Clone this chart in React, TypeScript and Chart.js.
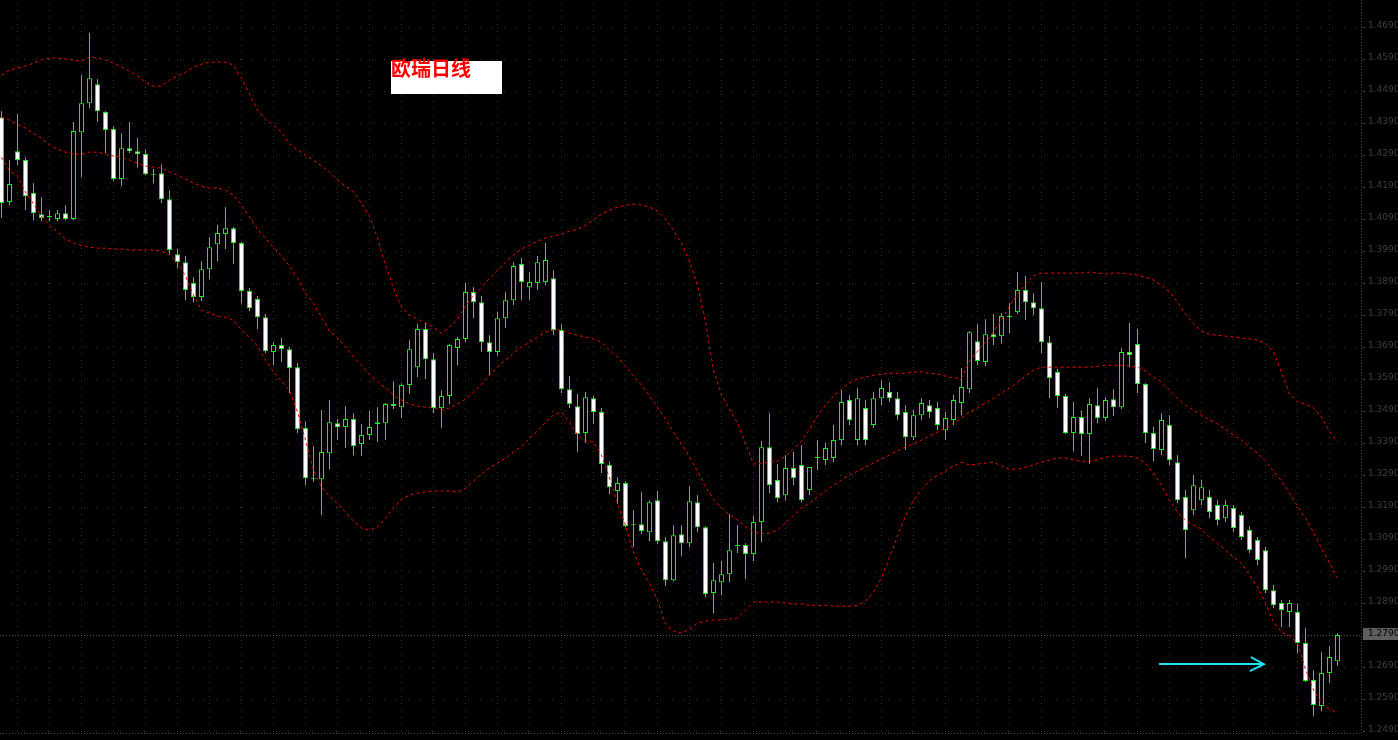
import React, { useEffect, useRef } from 'react';
import { Chart, registerables } from 'chart.js';

Chart.register(...registerables);

// ---- Daily EUR/CHF candles (oldest -> newest) ----
const opens = [
  1.4408, 1.4143, 1.4302, 1.4274, 1.4171, 1.4105, 1.4096, 1.4090, 1.4108, 1.4090,
  1.4361, 1.4452, 1.4511, 1.4424, 1.4371, 1.4215, 1.4311, 1.4302, 1.4293, 1.4227,
  1.4233, 1.4152, 1.3980, 1.3955, 1.3890, 1.3846, 1.3933, 1.4011, 1.4043, 1.4061,
  1.4015, 1.3865, 1.3840, 1.3783, 1.3674, 1.3696, 1.3683, 1.3627, 1.3437, 1.3277,
  1.3277, 1.3358, 1.3452, 1.3440, 1.3465, 1.3387, 1.3415, 1.3455, 1.3452, 1.3512,
  1.3502, 1.3571, 1.3627, 1.3746, 1.3652, 1.3499, 1.3537, 1.3687, 1.3715, 1.3862,
  1.3830, 1.3705, 1.3674, 1.3780, 1.3836, 1.3949, 1.3877, 1.3890, 1.3893, 1.3905,
  1.3743, 1.3558, 1.3505, 1.3421, 1.3530, 1.3487, 1.3321, 1.3240, 1.3265, 1.3133,
  1.3136, 1.3111, 1.3211, 1.3083, 1.2961, 1.3105, 1.3077, 1.3205, 1.3127, 1.2921,
  1.2955, 1.2980, 1.3068, 1.3071, 1.3043, 1.3143, 1.3377, 1.3274, 1.3227, 1.3312,
  1.3321, 1.3243, 1.3343, 1.3337, 1.3343, 1.3399, 1.3524, 1.3399, 1.3499, 1.3446,
  1.3530, 1.3549, 1.3530, 1.3487, 1.3408, 1.3477, 1.3508, 1.3499, 1.3430, 1.3462,
  1.3515, 1.3558, 1.3708, 1.3643, 1.3730, 1.3724, 1.3783, 1.3799, 1.3868, 1.3830,
  1.3811, 1.3705, 1.3612, 1.3537, 1.3421, 1.3471, 1.3418, 1.3508, 1.3468, 1.3527,
  1.3502, 1.3674, 1.3699, 1.3574, 1.3421, 1.3368, 1.3446, 1.3330, 1.3221, 1.3180,
  1.3211, 1.3221, 1.3196, 1.3155, 1.3187, 1.3165, 1.3118, 1.3087, 1.3055, 1.2930,
  1.2890, 1.2862, 1.2862, 1.2765, 1.2649, 1.2568, 1.2671, 1.2708,
];
const highs = [
  1.4427, 1.4274, 1.4418, 1.4283, 1.4202, 1.4158, 1.4118, 1.4118, 1.4133, 1.4393,
  1.4540, 1.4671, 1.4527, 1.4427, 1.4380, 1.4358, 1.4393, 1.4343, 1.4308, 1.4246,
  1.4261, 1.4180, 1.3996, 1.3974, 1.3908, 1.3958, 1.4033, 1.4071, 1.4127, 1.4065,
  1.4018, 1.3874, 1.3849, 1.3793, 1.3705, 1.3718, 1.3690, 1.3640, 1.3458, 1.3380,
  1.3493, 1.3524, 1.3465, 1.3505, 1.3483, 1.3449, 1.3490, 1.3502, 1.3515, 1.3583,
  1.3577, 1.3712, 1.3762, 1.3765, 1.3671, 1.3555, 1.3699, 1.3721, 1.3890, 1.3877,
  1.3849, 1.3727, 1.3799, 1.3862, 1.3955, 1.3968, 1.3924, 1.3974, 1.4015, 1.3930,
  1.3762, 1.3599, 1.3543, 1.3549, 1.3537, 1.3499, 1.3333, 1.3283, 1.3271, 1.3180,
  1.3236, 1.3211, 1.3240, 1.3096, 1.3133, 1.3133, 1.3255, 1.3227, 1.3130, 1.3015,
  1.3021, 1.3168, 1.3133, 1.3077, 1.3162, 1.3396, 1.3483, 1.3324, 1.3352, 1.3362,
  1.3383, 1.3312, 1.3399, 1.3390, 1.3446, 1.3555, 1.3540, 1.3562, 1.3524, 1.3549,
  1.3587, 1.3580, 1.3549, 1.3508, 1.3493, 1.3530, 1.3524, 1.3518, 1.3487, 1.3540,
  1.3624, 1.3740, 1.3762, 1.3777, 1.3793, 1.3796, 1.3827, 1.3924, 1.3912, 1.3858,
  1.3893, 1.3724, 1.3621, 1.3543, 1.3518, 1.3490, 1.3530, 1.3562, 1.3533, 1.3558,
  1.3687, 1.3765, 1.3746, 1.3577, 1.3440, 1.3483, 1.3477, 1.3352, 1.3243, 1.3290,
  1.3274, 1.3243, 1.3211, 1.3211, 1.3196, 1.3174, 1.3130, 1.3096, 1.3065, 1.2946,
  1.2899, 1.2899, 1.2887, 1.2812, 1.2680, 1.2737, 1.2755, 1.2796,
];
const lows = [
  1.4093, 1.4133, 1.4258, 1.4118, 1.4086, 1.4083, 1.4083, 1.4083, 1.4086, 1.4086,
  1.4221, 1.4436, 1.4393, 1.4296, 1.4208, 1.4193, 1.4296, 1.4252, 1.4227, 1.4202,
  1.4140, 1.3980, 1.3936, 1.3836, 1.3830, 1.3833, 1.3902, 1.3958, 1.3996, 1.3949,
  1.3827, 1.3802, 1.3746, 1.3671, 1.3633, 1.3643, 1.3546, 1.3421, 1.3258, 1.3268,
  1.3165, 1.3308, 1.3399, 1.3374, 1.3352, 1.3349, 1.3399, 1.3393, 1.3399, 1.3496,
  1.3468, 1.3543, 1.3596, 1.3590, 1.3483, 1.3437, 1.3512, 1.3633, 1.3705, 1.3780,
  1.3674, 1.3602, 1.3662, 1.3749, 1.3821, 1.3836, 1.3836, 1.3868, 1.3883, 1.3727,
  1.3546, 1.3499, 1.3362, 1.3390, 1.3449, 1.3296, 1.3230, 1.3199, 1.3127, 1.3065,
  1.3105, 1.3083, 1.3074, 1.2943, 1.2958, 1.3036, 1.3065, 1.3111, 1.2908, 1.2858,
  1.2915, 1.2955, 1.3046, 1.2965, 1.3021, 1.3080, 1.3233, 1.3205, 1.3211, 1.3258,
  1.3205, 1.3227, 1.3305, 1.3321, 1.3330, 1.3383, 1.3446, 1.3383, 1.3383, 1.3437,
  1.3508, 1.3518, 1.3462, 1.3368, 1.3399, 1.3462, 1.3468, 1.3430, 1.3399, 1.3446,
  1.3477, 1.3546, 1.3633, 1.3630, 1.3696, 1.3702, 1.3733, 1.3793, 1.3774, 1.3790,
  1.3671, 1.3530, 1.3499, 1.3418, 1.3365, 1.3349, 1.3324, 1.3452, 1.3458, 1.3474,
  1.3496, 1.3627, 1.3546, 1.3390, 1.3333, 1.3352, 1.3321, 1.3202, 1.3030, 1.3165,
  1.3196, 1.3155, 1.3133, 1.3143, 1.3111, 1.3087, 1.3046, 1.3008, 1.2921, 1.2874,
  1.2815, 1.2815, 1.2733, 1.2643, 1.2536, 1.2552, 1.2640, 1.2693,
];
const closes = [
  1.4140, 1.4199, 1.4274, 1.4161, 1.4108, 1.4093, 1.4099, 1.4108, 1.4090, 1.4365,
  1.4452, 1.4530, 1.4427, 1.4368, 1.4215, 1.4311, 1.4302, 1.4293, 1.4230, 1.4230,
  1.4152, 1.3993, 1.3955, 1.3868, 1.3846, 1.3933, 1.4002, 1.4046, 1.4061, 1.4015,
  1.3865, 1.3811, 1.3783, 1.3677, 1.3696, 1.3683, 1.3624, 1.3433, 1.3280, 1.3280,
  1.3362, 1.3455, 1.3440, 1.3465, 1.3380, 1.3415, 1.3440, 1.3449, 1.3512, 1.3505,
  1.3571, 1.3683, 1.3746, 1.3652, 1.3499, 1.3537, 1.3696, 1.3715, 1.3862, 1.3830,
  1.3705, 1.3674, 1.3780, 1.3836, 1.3943, 1.3893, 1.3893, 1.3955, 1.3962, 1.3743,
  1.3558, 1.3512, 1.3418, 1.3533, 1.3487, 1.3324, 1.3252, 1.3265, 1.3130, 1.3136,
  1.3115, 1.3205, 1.3083, 1.2961, 1.3102, 1.3077, 1.3208, 1.3127, 1.2918, 1.2961,
  1.2980, 1.3055, 1.3071, 1.3043, 1.3143, 1.3377, 1.3258, 1.3218, 1.3312, 1.3280,
  1.3211, 1.3315, 1.3346, 1.3374, 1.3399, 1.3518, 1.3462, 1.3530, 1.3399, 1.3530,
  1.3562, 1.3530, 1.3477, 1.3408, 1.3477, 1.3515, 1.3487, 1.3446, 1.3468, 1.3524,
  1.3565, 1.3736, 1.3646, 1.3730, 1.3721, 1.3787, 1.3787, 1.3868, 1.3830, 1.3811,
  1.3705, 1.3593, 1.3537, 1.3421, 1.3471, 1.3418, 1.3512, 1.3468, 1.3524, 1.3502,
  1.3674, 1.3665, 1.3574, 1.3421, 1.3371, 1.3462, 1.3337, 1.3211, 1.3118, 1.3258,
  1.3252, 1.3174, 1.3149, 1.3196, 1.3124, 1.3096, 1.3055, 1.3024, 1.2930, 1.2883,
  1.2868, 1.2890, 1.2765, 1.2646, 1.2571, 1.2671, 1.2721, 1.2790,
];

// ---- Bollinger bands as drawn on the chart ----
const upperBand = [
  1.4540, 1.4555, 1.4562, 1.4568, 1.4577, 1.4587, 1.4593, 1.4593, 1.4590, 1.4587,
  1.4583, 1.4596, 1.4593, 1.4587, 1.4577, 1.4565, 1.4552, 1.4537, 1.4518, 1.4505,
  1.4505, 1.4524, 1.4537, 1.4549, 1.4565, 1.4574, 1.4580, 1.4580, 1.4580, 1.4571,
  1.4530, 1.4480, 1.4430, 1.4402, 1.4383, 1.4362, 1.4324, 1.4305, 1.4290, 1.4274,
  1.4255, 1.4237, 1.4212, 1.4193, 1.4174, 1.4140, 1.4099, 1.4030, 1.3946, 1.3874,
  1.3815, 1.3790, 1.3777, 1.3765, 1.3752, 1.3733, 1.3752, 1.3777, 1.3818, 1.3852,
  1.3877, 1.3905, 1.3930, 1.3955, 1.3977, 1.3996, 1.4008, 1.4021, 1.4030, 1.4037,
  1.4043, 1.4052, 1.4058, 1.4071, 1.4087, 1.4105, 1.4118, 1.4127, 1.4133, 1.4137,
  1.4133, 1.4127, 1.4115, 1.4090, 1.4055, 1.4015, 1.3958, 1.3883, 1.3768, 1.3618,
  1.3540, 1.3496, 1.3452, 1.3390, 1.3324, 1.3327, 1.3330, 1.3333, 1.3349, 1.3371,
  1.3396, 1.3433, 1.3474, 1.3508, 1.3537, 1.3558, 1.3577, 1.3590, 1.3596, 1.3602,
  1.3605, 1.3608, 1.3608, 1.3608, 1.3612, 1.3612, 1.3608, 1.3605, 1.3599, 1.3593,
  1.3593, 1.3646, 1.3677, 1.3705, 1.3737, 1.3774, 1.3818, 1.3855, 1.3887, 1.3912,
  1.3921, 1.3921, 1.3921, 1.3921, 1.3921, 1.3921, 1.3924, 1.3921, 1.3918, 1.3921,
  1.3921, 1.3918, 1.3915, 1.3908, 1.3899, 1.3883, 1.3862, 1.3830, 1.3793, 1.3762,
  1.3740, 1.3730, 1.3727, 1.3724, 1.3721, 1.3718, 1.3715, 1.3712, 1.3702, 1.3674,
  1.3612, 1.3543, 1.3518, 1.3512, 1.3499, 1.3471, 1.3427, 1.3393,
];
const middleBand = [
  1.4408, 1.4399, 1.4386, 1.4374, 1.4358, 1.4343, 1.4321, 1.4308, 1.4299, 1.4293,
  1.4293, 1.4299, 1.4299, 1.4293, 1.4287, 1.4283, 1.4274, 1.4265, 1.4255, 1.4252,
  1.4249, 1.4237, 1.4227, 1.4215, 1.4202, 1.4193, 1.4187, 1.4187, 1.4180, 1.4165,
  1.4133, 1.4096, 1.4058, 1.4030, 1.4002, 1.3974, 1.3943, 1.3905, 1.3858, 1.3827,
  1.3783, 1.3740, 1.3718, 1.3690, 1.3658, 1.3633, 1.3605, 1.3583, 1.3562, 1.3540,
  1.3524, 1.3512, 1.3505, 1.3502, 1.3499, 1.3493, 1.3499, 1.3512, 1.3527, 1.3549,
  1.3574, 1.3602, 1.3627, 1.3649, 1.3671, 1.3690, 1.3705, 1.3721, 1.3737, 1.3743,
  1.3743, 1.3733, 1.3727, 1.3721, 1.3715, 1.3705, 1.3680, 1.3658, 1.3630, 1.3599,
  1.3571, 1.3537, 1.3502, 1.3465, 1.3424, 1.3387, 1.3346, 1.3302, 1.3252, 1.3215,
  1.3187, 1.3165, 1.3149, 1.3130, 1.3111, 1.3108, 1.3108, 1.3118, 1.3140, 1.3162,
  1.3187, 1.3202, 1.3221, 1.3240, 1.3258, 1.3274, 1.3290, 1.3302, 1.3315, 1.3327,
  1.3340, 1.3352, 1.3365, 1.3377, 1.3387, 1.3399, 1.3412, 1.3424, 1.3437, 1.3452,
  1.3468, 1.3487, 1.3499, 1.3515, 1.3530, 1.3546, 1.3562, 1.3580, 1.3599, 1.3618,
  1.3627, 1.3627, 1.3627, 1.3627, 1.3627, 1.3627, 1.3627, 1.3630, 1.3633, 1.3633,
  1.3633, 1.3630, 1.3627, 1.3615, 1.3596, 1.3580, 1.3555, 1.3530, 1.3508, 1.3493,
  1.3477, 1.3462, 1.3449, 1.3433, 1.3415, 1.3399, 1.3377, 1.3358, 1.3333, 1.3302,
  1.3271, 1.3233, 1.3193, 1.3155, 1.3111, 1.3062, 1.3015, 1.2968,
];
const lowerBand = [
  1.4283, 1.4240, 1.4224, 1.4174, 1.4137, 1.4099, 1.4071, 1.4049, 1.4027, 1.4015,
  1.4008, 1.4002, 1.3999, 1.3999, 1.3996, 1.3996, 1.3993, 1.3993, 1.3993, 1.3993,
  1.3990, 1.3977, 1.3955, 1.3912, 1.3852, 1.3805, 1.3796, 1.3787, 1.3783, 1.3774,
  1.3743, 1.3721, 1.3693, 1.3649, 1.3612, 1.3583, 1.3555, 1.3487, 1.3399, 1.3305,
  1.3252, 1.3224, 1.3202, 1.3174, 1.3146, 1.3124, 1.3118, 1.3127, 1.3155, 1.3187,
  1.3215, 1.3227, 1.3233, 1.3237, 1.3240, 1.3240, 1.3240, 1.3237, 1.3249, 1.3271,
  1.3293, 1.3312, 1.3327, 1.3343, 1.3362, 1.3380, 1.3405, 1.3427, 1.3455, 1.3477,
  1.3487, 1.3455, 1.3415, 1.3396, 1.3393, 1.3352, 1.3280, 1.3202, 1.3133, 1.3049,
  1.2993, 1.2952, 1.2899, 1.2824, 1.2802, 1.2796, 1.2808, 1.2827, 1.2833, 1.2837,
  1.2837, 1.2840, 1.2843, 1.2868, 1.2893, 1.2893, 1.2893, 1.2893, 1.2890, 1.2887,
  1.2887, 1.2883, 1.2883, 1.2883, 1.2880, 1.2880, 1.2880, 1.2883, 1.2896, 1.2924,
  1.2968, 1.3033, 1.3099, 1.3162, 1.3211, 1.3246, 1.3271, 1.3290, 1.3302, 1.3318,
  1.3330, 1.3321, 1.3324, 1.3327, 1.3330, 1.3318, 1.3308, 1.3308, 1.3315, 1.3321,
  1.3330, 1.3337, 1.3343, 1.3343, 1.3337, 1.3333, 1.3333, 1.3337, 1.3346, 1.3349,
  1.3349, 1.3349, 1.3343, 1.3327, 1.3296, 1.3258, 1.3211, 1.3174, 1.3149, 1.3133,
  1.3121, 1.3096, 1.3077, 1.3055, 1.3033, 1.3015, 1.2977, 1.2940, 1.2890, 1.2830,
  1.2799, 1.2787, 1.2765, 1.2683, 1.2618, 1.2577, 1.2558, 1.2546,
];

// ---- Price axis labels ----
const priceTicks = [
  1.469, 1.459, 1.449, 1.439, 1.429, 1.419, 1.409, 1.399, 1.389, 1.379, 1.369, 1.359,
  1.349, 1.339, 1.329, 1.319, 1.309, 1.299, 1.289, 1.279, 1.269, 1.259, 1.249,
];

const chartTitle = '欧瑞日线';
const arrowFrom = { bar: 144.7, price: 1.2699 };
const arrowTo = { bar: 157.8, price: 1.2699 };

const GREEN = '#00ff00';

const decorPlugin = {
  id: 'mt4Decor',
  beforeDraw(chart: any) {
    const { ctx, width, height } = chart;
    ctx.save();
    ctx.fillStyle = '#000000';
    ctx.fillRect(0, 0, width, height);
    ctx.restore();
  },
  beforeDatasetsDraw(chart: any) {
    const { ctx, chartArea, scales } = chart;
    const xs = scales.x;
    const ys = scales.y;
    ctx.save();
    ctx.fillStyle = '#363636';
    for (const t of priceTicks) {
      const py = Math.round(ys.getPixelForValue(t));
      if (py >= chartArea.bottom - 1) continue;
      for (let px = 12; px < chartArea.right; px += 12) ctx.fillRect(px, py, 1, 1);
    }
    for (let v = 1.9375; ; v += 4) {
      const px = Math.round(xs.getPixelForValue(v));
      if (px >= chartArea.right - 1) break;
      for (let py = 3; py < chartArea.bottom; py += 7) ctx.fillRect(px, py, 1, 1);
    }
    // current price line
    const lastY = Math.round(ys.getPixelForValue(closes[closes.length - 1]));
    ctx.fillStyle = '#5a5a5a';
    for (let px = 0; px < chartArea.right; px += 3) ctx.fillRect(px, lastY, 1, 1);
    // frame
    ctx.fillStyle = '#4a4a4a';
    const b = Math.round(chartArea.bottom);
    const r = Math.round(chartArea.right);
    for (let px = 0; px < r; px += 3) ctx.fillRect(px, b, 1, 1);
    for (let py = 0; py < b; py += 3) ctx.fillRect(r, py, 1, 1);
    ctx.restore();
  },
  afterDraw(chart: any) {
    const { ctx, chartArea, scales, width } = chart;
    const xs = scales.x;
    const ys = scales.y;
    const r = Math.round(chartArea.right);
    ctx.save();
    // price axis labels
    ctx.font = '9px "DejaVu Sans"';
    ctx.textBaseline = 'middle';
    ctx.textAlign = 'left';
    ctx.fillStyle = '#3f3f3f';
    for (const t of priceTicks) {
      const py = Math.round(ys.getPixelForValue(t));
      ctx.fillRect(r + 2, py, 2, 1);
      ctx.fillText(t.toFixed(4), r + 7, py - 1);
    }
    // current price box
    const last = closes[closes.length - 1];
    const lastY = Math.round(ys.getPixelForValue(last));
    ctx.fillStyle = '#5e5e5e';
    ctx.fillRect(r + 2, lastY - 7, width - r - 2, 12);
    ctx.fillStyle = '#000000';
    ctx.fillText(last.toFixed(4), r + 7, lastY - 1);

    // title box
    ctx.fillStyle = '#ffffff';
    ctx.fillRect(391, 61, 111, 33);
    ctx.fillStyle = '#ff0000';
    ctx.font = 'bold 20px "Noto Sans CJK SC"';
    ctx.textBaseline = 'top';
    ctx.fillText(chartTitle, 391, 58);

    // arrow
    const x1 = xs.getPixelForValue(arrowFrom.bar);
    const x2 = xs.getPixelForValue(arrowTo.bar);
    const y1 = ys.getPixelForValue(arrowFrom.price);
    const y2 = ys.getPixelForValue(arrowTo.price);
    ctx.strokeStyle = '#18e4f2';
    ctx.lineWidth = 2;
    ctx.beginPath();
    ctx.moveTo(x1, y1);
    ctx.lineTo(x2, y2);
    ctx.moveTo(x2 - 13, y2 - 7);
    ctx.lineTo(x2, y2);
    ctx.lineTo(x2 - 14, y2 + 7);
    ctx.stroke();
    ctx.restore();
  },
};

export default function App() {
  const canvasRef = useRef<HTMLCanvasElement | null>(null);

  useEffect(() => {
    const canvas = canvasRef.current;
    if (!canvas) return;
    const idx = closes.map((_, i) => i);
    const bodyData = idx.map((i) => ({ x: i, y: [opens[i], closes[i]] }));
    const wickData = idx.map((i) => ({ x: i, y: [lows[i], highs[i]] }));
    const bodyFill = idx.map((i) => (closes[i] < opens[i] ? '#ffffff' : '#000000'));
    const band = (arr: number[]) => arr.map((v, i) => ({ x: i, y: v }));
    const lineStyle = {
      type: 'line' as const,
      borderColor: '#f00000',
      borderWidth: 1,
      borderDash: [3, 3],
      pointRadius: 0,
      fill: false,
      tension: 0,
      order: 0,
    };

    const chart = new Chart(canvas, {
      type: 'bar',
      data: {
        datasets: [
          { ...lineStyle, label: 'Upper', data: band(upperBand) } as any,
          { ...lineStyle, label: 'Middle', data: band(middleBand) } as any,
          { ...lineStyle, label: 'Lower', data: band(lowerBand) } as any,
          {
            label: 'Body',
            data: bodyData as any,
            backgroundColor: bodyFill,
            borderColor: GREEN,
            borderWidth: 1,
            borderSkipped: false,
            barThickness: 5,
            grouped: false,
            inflateAmount: 0,
            order: 1,
          } as any,
          {
            label: 'Wick',
            data: wickData as any,
            backgroundColor: GREEN,
            borderWidth: 0,
            barThickness: 1,
            grouped: false,
            inflateAmount: 0,
            order: 2,
          } as any,
        ],
      },
      options: {
        responsive: false,
        maintainAspectRatio: false,
        animation: false,
        layout: { padding: { left: 0, right: 0, top: 0, bottom: 7 } },
        plugins: { legend: { display: false }, tooltip: { enabled: false } },
        scales: {
          x: {
            type: 'linear',
            min: -0.1875,
            max: 169.9375,
            offset: false,
            display: false,
          },
          y: {
            type: 'linear',
            position: 'right',
            min: 1.248375,
            max: 1.4774375,
            grid: { display: false, drawTicks: false },
            border: { display: false },
            ticks: { display: false },
            afterBuildTicks: (scale: any) => {
              scale.ticks = priceTicks.map((v) => ({ value: v }));
            },
            afterFit: (scale: any) => {
              scale.width = 37;
            },
          },
        },
      } as any,
      plugins: [decorPlugin],
    });
    return () => chart.destroy();
  }, []);

  return (
    <div style={{ position: 'fixed', left: 0, top: 0, width: 1398, height: 740, background: '#000' }}>
      <canvas ref={canvasRef} width={1398} height={740} style={{ display: 'block' }} />
    </div>
  );
}
